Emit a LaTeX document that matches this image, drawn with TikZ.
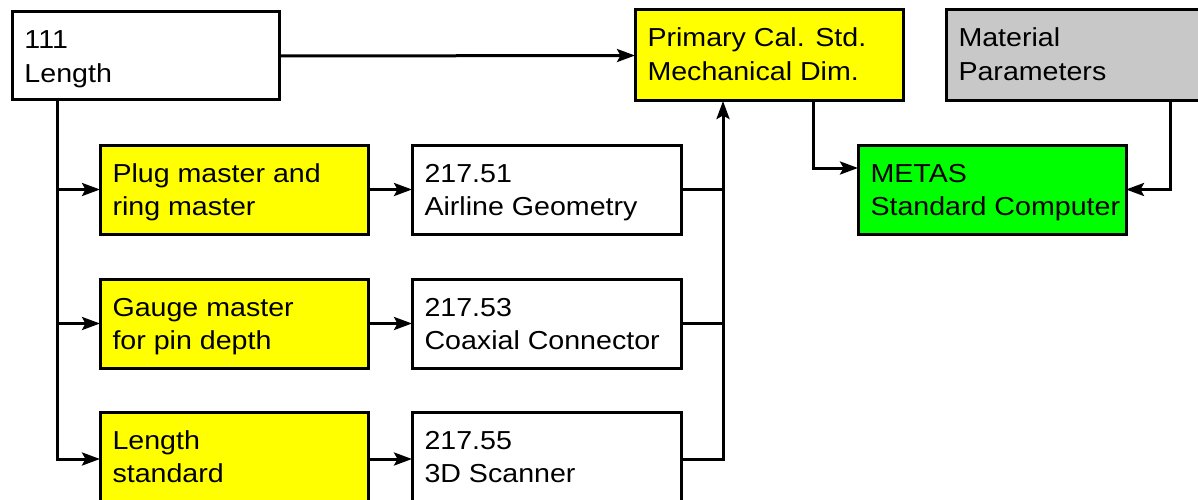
\documentclass[tikz,border=0pt]{standalone}
\usepackage{fontspec}
\setmainfont{Liberation Sans}[FakeStretch=1.10]
\usetikzlibrary{arrows.meta,calc}
\definecolor{boxyellow}{RGB}{255,255,0}
\definecolor{boxgreen}{RGB}{0,255,0}
\definecolor{boxgray}{RGB}{200,200,200}
\tikzset{
  blk/.style={draw=black, line width=3pt, rectangle, anchor=north west,
    inner xsep=0pt, inner ysep=0pt, outer sep=0pt,
    font=\fontsize{26}{33.5}\selectfont},
  wbox/.style={blk, fill=white},
  ybox/.style={blk, fill=boxyellow},
  gbox/.style={blk, fill=boxgreen},
  greybox/.style={blk, fill=boxgray},
  conn/.style={line width=3pt, draw=black},
  arr/.style={conn, -{Stealth[length=18pt,width=13pt,inset=3.5pt]}},
}
\newcommand{\bx}[3]{\parbox[c][#2pt][t]{#1pt}{\hspace*{12.5pt}\begin{minipage}[t]{\dimexpr#1pt-13pt\relax}\raggedright\rule{0pt}{37pt}#3\end{minipage}}}
\begin{document}
\begin{tikzpicture}[x=1pt,y=-1pt]
\useasboundingbox (0,0) rectangle (1198,500);
\clip (0,0) rectangle (1198,500);
% boxes
\node[wbox] (l111) at (12,12) {\bx{267}{88}{111\\Length}};
\node[ybox] (prim) at (635,10) {\bx{268}{91}{Primary Cal. Std.\\Mechanical Dim.}};
\node[greybox] (mat) at (946,10) {\bx{270}{91}{Material\\Parameters}};
\node[gbox] (metas) at (858,145) {\bx{268}{89}{METAS\\Standard Computer}};
\node[ybox] (plug) at (100,145) {\bx{268}{89}{Plug master and\\ring master}};
\node[wbox] (a51) at (412,145) {\bx{269}{89}{217.51\\Airline Geometry}};
\node[ybox] (gauge) at (100,279) {\bx{268}{89}{Gauge master\\for pin depth}};
\node[wbox] (a53) at (412,279) {\bx{269}{89}{217.53\\Coaxial Connector}};
\node[ybox] (lstd) at (100,412) {\bx{268}{94}{Length\\standard}};
\node[wbox] (a55) at (412,412) {\bx{269}{94}{217.55\\3D Scanner}};
% coordinates
\coordinate (v0) at ($(l111.south west)+(45,0)$);
\coordinate (bustop) at ($(prim.south west)+(88,0)$);
\coordinate (pdown) at ($(prim.south west)+(178,0)$);
\coordinate (mdown) at ($(mat.south west)+(224,0)$);
\coordinate (metasin) at ($(metas.north west)+(0,23)$);
% connectors
\draw[arr] (l111.east) -- (prim.west);
\draw[arr] (v0) |- (plug.west);
\draw[arr] (v0) |- (gauge.west);
\draw[arr] (v0) |- (lstd.west);
\draw[arr] (plug.east) -- (a51.west);
\draw[arr] (gauge.east) -- (a53.west);
\draw[arr] (lstd.east) -- (a55.west);
\draw[conn] (a51.east) -- (a51.east -| bustop);
\draw[conn] (a53.east) -- (a53.east -| bustop);
\draw[arr] (a55.east) -| (bustop);
\draw[arr] (pdown) |- (metasin);
\draw[arr] (mdown) |- (metas.east);
\end{tikzpicture}
\end{document}
